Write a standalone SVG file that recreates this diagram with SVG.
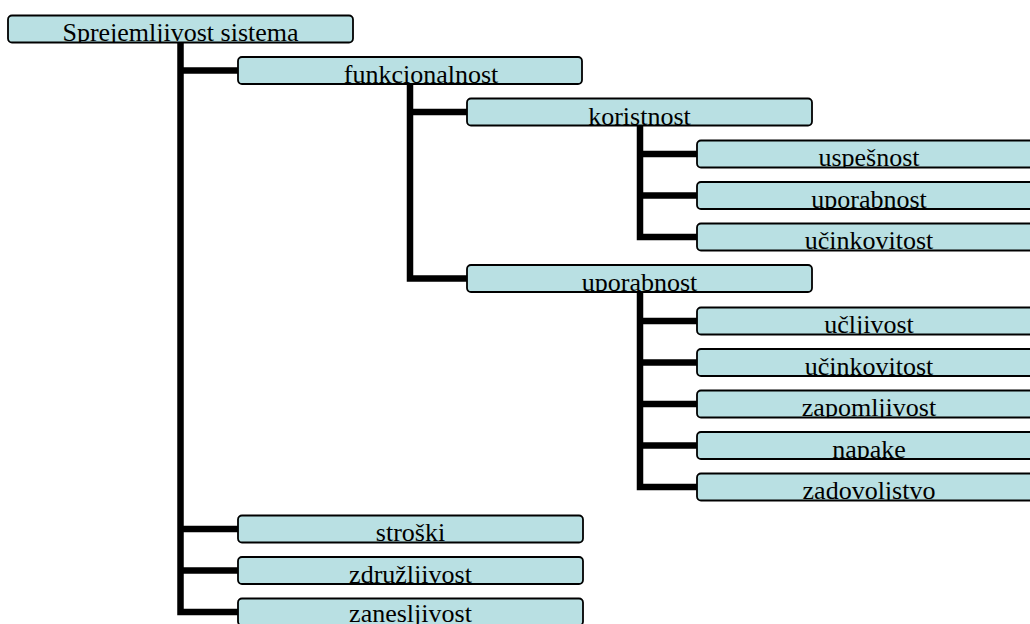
<svg xmlns="http://www.w3.org/2000/svg" width="1030" height="624" viewBox="0 0 1030 624">
<style>
.box{fill:#B9E0E3;stroke:#000;stroke-width:1.8}
.lbl{font-family:"Liberation Serif","Times New Roman",serif;font-size:26px;fill:#000;text-anchor:middle}
.con{fill:none;stroke:#000;stroke-width:6.5;stroke-linejoin:miter}
</style>
<defs>
<clipPath id="c0"><rect x="8" y="15.5" width="345" height="27"/></clipPath>
<clipPath id="c1"><rect x="238" y="57" width="344" height="27"/></clipPath>
<clipPath id="c2"><rect x="467" y="98.5" width="345" height="27"/></clipPath>
<clipPath id="c3"><rect x="697" y="140.5" width="344" height="27"/></clipPath>
<clipPath id="c4"><rect x="697" y="182" width="344" height="27"/></clipPath>
<clipPath id="c5"><rect x="697" y="223.5" width="344" height="27"/></clipPath>
<clipPath id="c6"><rect x="467" y="265" width="345" height="27"/></clipPath>
<clipPath id="c7"><rect x="697" y="307.5" width="344" height="27"/></clipPath>
<clipPath id="c8"><rect x="697" y="349" width="344" height="27"/></clipPath>
<clipPath id="c9"><rect x="697" y="390.5" width="344" height="27"/></clipPath>
<clipPath id="c10"><rect x="697" y="432" width="344" height="27"/></clipPath>
<clipPath id="c11"><rect x="697" y="473.5" width="344" height="27"/></clipPath>
<clipPath id="c12"><rect x="238" y="515.5" width="345" height="27"/></clipPath>
<clipPath id="c13"><rect x="238" y="557" width="345" height="27"/></clipPath>
<clipPath id="c14"><rect x="238" y="598.5" width="345" height="27"/></clipPath>
</defs>
<g id="connectors">
<path class="con" d="M180.5 42 V612 H238"/>
<path class="con" d="M180.5 70.5 H238"/>
<path class="con" d="M180.5 529 H238"/>
<path class="con" d="M180.5 570.5 H238"/>
<path class="con" d="M410 84 V278.5 H467"/>
<path class="con" d="M410 112 H467"/>
<path class="con" d="M640 125.5 V237 H697"/>
<path class="con" d="M640 154 H697"/>
<path class="con" d="M640 195.5 H697"/>
<path class="con" d="M640 292 V487 H697"/>
<path class="con" d="M640 321 H697"/>
<path class="con" d="M640 362.5 H697"/>
<path class="con" d="M640 404 H697"/>
<path class="con" d="M640 445.5 H697"/>
</g>
<g id="n0"><rect class="box" x="8" y="15.5" width="345" height="27" rx="4"/><text class="lbl" x="180.5" y="41" clip-path="url(#c0)">Sprejemljivost sistema</text></g>
<g id="n1"><rect class="box" x="238" y="57" width="344" height="27" rx="4"/><text class="lbl" x="421" y="82.5" clip-path="url(#c1)">funkcionalnost</text></g>
<g id="n2"><rect class="box" x="467" y="98.5" width="345" height="27" rx="4"/><text class="lbl" x="639.5" y="124.5" clip-path="url(#c2)">koristnost</text></g>
<g id="n3"><rect class="box" x="697" y="140.5" width="344" height="27" rx="4"/><text class="lbl" x="869" y="166" clip-path="url(#c3)">uspešnost</text></g>
<g id="n4"><rect class="box" x="697" y="182" width="344" height="27" rx="4"/><text class="lbl" x="869" y="207.5" clip-path="url(#c4)">uporabnost</text></g>
<g id="n5"><rect class="box" x="697" y="223.5" width="344" height="27" rx="4"/><text class="lbl" x="869" y="249" clip-path="url(#c5)">učinkovitost</text></g>
<g id="n6"><rect class="box" x="467" y="265" width="345" height="27" rx="4"/><text class="lbl" x="639.5" y="290.5" clip-path="url(#c6)">uporabnost</text></g>
<g id="n7"><rect class="box" x="697" y="307.5" width="344" height="27" rx="4"/><text class="lbl" x="869" y="333" clip-path="url(#c7)">učljivost</text></g>
<g id="n8"><rect class="box" x="697" y="349" width="344" height="27" rx="4"/><text class="lbl" x="869" y="374.5" clip-path="url(#c8)">učinkovitost</text></g>
<g id="n9"><rect class="box" x="697" y="390.5" width="344" height="27" rx="4"/><text class="lbl" x="869" y="416" clip-path="url(#c9)">zapomljivost</text></g>
<g id="n10"><rect class="box" x="697" y="432" width="344" height="27" rx="4"/><text class="lbl" x="869" y="457.5" clip-path="url(#c10)">napake</text></g>
<g id="n11"><rect class="box" x="697" y="473.5" width="344" height="27" rx="4"/><text class="lbl" x="869" y="499" clip-path="url(#c11)">zadovoljstvo</text></g>
<g id="n12"><rect class="box" x="238" y="515.5" width="345" height="27" rx="4"/><text class="lbl" x="410.5" y="541" clip-path="url(#c12)">stroški</text></g>
<g id="n13"><rect class="box" x="238" y="557" width="345" height="27" rx="4"/><text class="lbl" x="410.5" y="582.5" clip-path="url(#c13)">združljivost</text></g>
<g id="n14"><rect class="box" x="238" y="598.5" width="345" height="27" rx="4"/><text class="lbl" x="410.5" y="621.5" clip-path="url(#c14)">zanesljivost</text></g>
</svg>
